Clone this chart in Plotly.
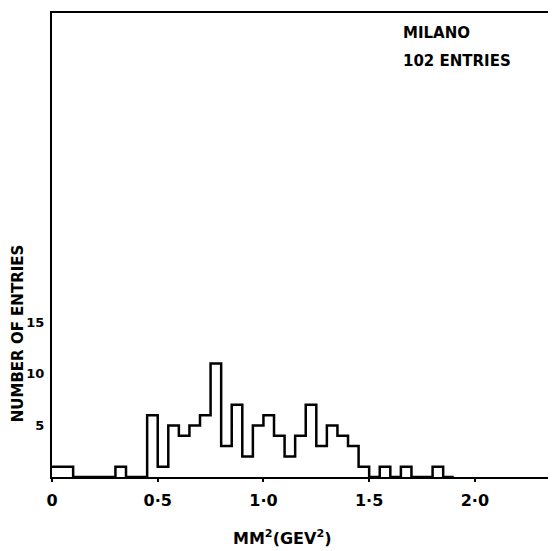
import plotly.graph_objects as go

# Histogram of missing mass squared, 0.05 GeV^2 bins from 0 to 1.90
bin_width = 0.05
bin_start = 0.0
counts = [
    1, 1, 0, 0, 0, 0, 1, 0, 0,          # 0.00 - 0.45
    6, 1, 5, 4, 5, 6, 11, 3, 7, 2,       # 0.45 - 0.95
    5, 6, 4, 2, 4, 7, 3, 5, 4, 3, 1,     # 0.95 - 1.50
    0, 1, 0, 1, 0, 0, 1, 0,              # 1.50 - 1.90
]

x_tickvals = [0, 0.5, 1.0, 1.5, 2.0]
x_ticktext = ["0", "0·5", "1·0", "1·5", "2·0"]
y_tickvals = [5, 10, 15]

edges = [round(bin_start + i * bin_width, 4) for i in range(len(counts) + 1)]
step_y = counts + [0]

FONT = "DejaVu Sans"

fig = go.Figure()
fig.add_trace(go.Scatter(
    x=edges, y=step_y,
    mode="lines",
    line=dict(shape="hv", color="black", width=2.5),
    hoverinfo="skip",
    showlegend=False,
))

# page body adds an 8px offset, so the figure is a bit smaller than the window
fig.update_layout(
    width=548, height=543,
    margin=dict(l=44, r=3, t=4, b=74),
    paper_bgcolor="white",
    plot_bgcolor="white",
    font=dict(family=FONT, color="black"),
    xaxis=dict(
        range=[0, 2.36],
        tickvals=x_tickvals, ticktext=x_ticktext,
        ticks="outside", ticklen=3, tickwidth=2, tickcolor="black",
        ticklabelstandoff=5,
        tickfont=dict(size=16, family=FONT, weight="bold"),
        showline=True, linecolor="black", linewidth=2, mirror=True,
        showgrid=False, zeroline=False,
    ),
    yaxis=dict(
        range=[0, 45],
        tickvals=y_tickvals,
        ticks="", ticklabelstandoff=3,
        tickfont=dict(size=13, family=FONT, weight="bold"),
        showline=True, linecolor="black", linewidth=2, mirror=True,
        showgrid=False, zeroline=False,
    ),
    annotations=[
        dict(text="MILANO", xref="paper", yref="paper", x=0.699, y=0.957,
             xanchor="left", yanchor="middle", showarrow=False,
             font=dict(size=15, family=FONT, weight="bold")),
        dict(text="102 ENTRIES", xref="paper", yref="paper", x=0.699, y=0.897,
             xanchor="left", yanchor="middle", showarrow=False,
             font=dict(size=15, family=FONT, weight="bold")),
        dict(text="MM<sup>2</sup>(GEV<sup>2</sup>)", xref="paper", yref="paper",
             x=0.462, y=-0.131, xanchor="center", yanchor="middle", showarrow=False,
             font=dict(size=16, family=FONT, weight="bold")),
        dict(text="NUMBER OF ENTRIES", xref="paper", yref="paper",
             x=-0.068, y=0.31, xanchor="center", yanchor="middle", showarrow=False,
             textangle=-90,
             font=dict(size=15, family=FONT, weight="bold")),
    ],
)

fig.write_html("out.html")
